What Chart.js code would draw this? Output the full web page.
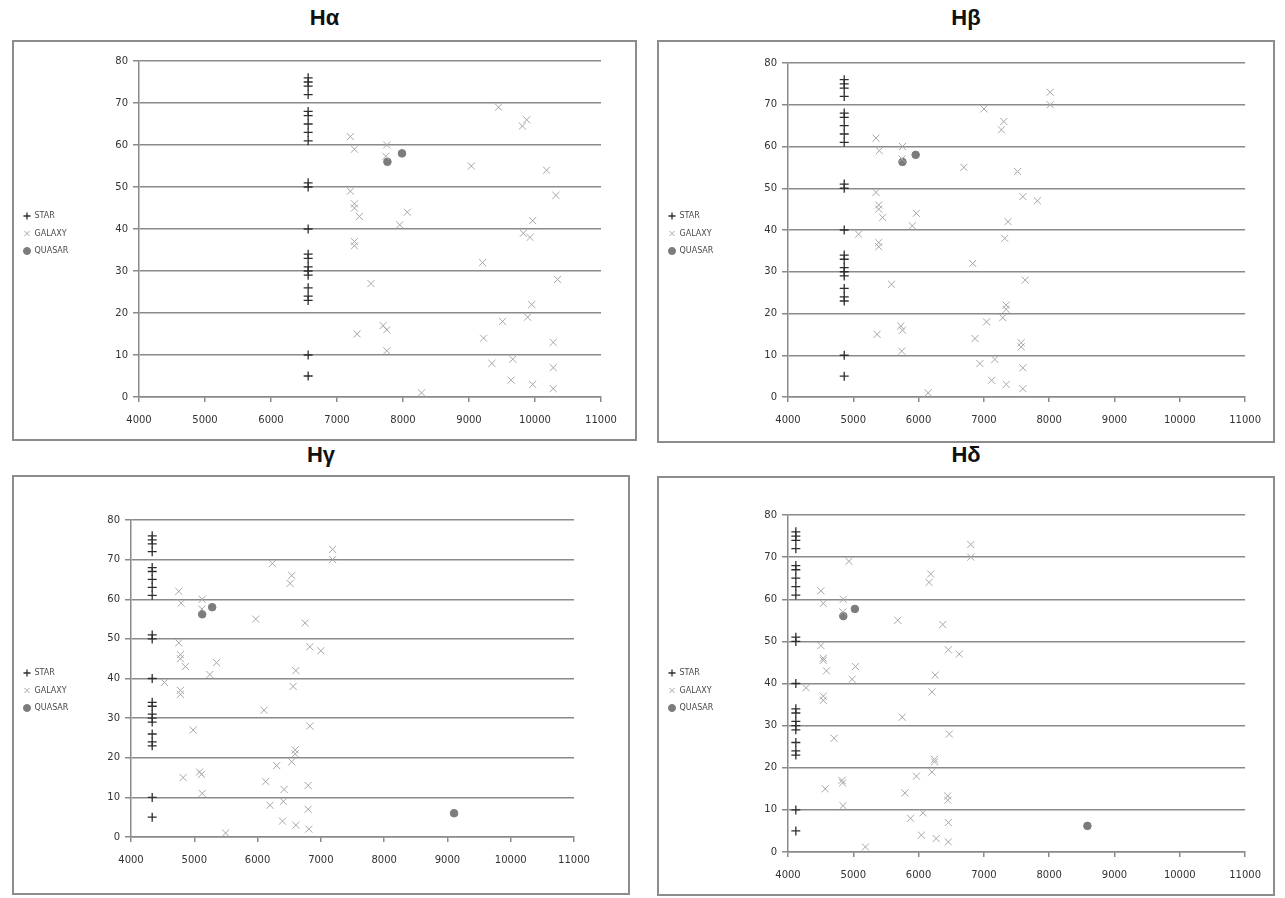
<!DOCTYPE html>
<html>
<head>
<meta charset="utf-8">
<script src="https://cdn.jsdelivr.net/npm/chart.js@4.4.1/dist/chart.umd.min.js"></script>
<style>
  body { margin: 0; background: #fff; width: 1285px; height: 898px; position: relative; overflow: hidden; }
  .title { position: absolute; font-family: "Liberation Sans", Arial, sans-serif; font-weight: bold; font-size: 22px; line-height: 26px; text-align: center; color: #111; }
  .box { position: absolute; border: 2px solid #8c8c8c; box-sizing: border-box; background: #fff; }
  .inner { position: relative; }
</style>
</head>
<body>
<script>
// 各パネルのタイトルと凡例
const titles = ['Hα', 'Hβ', 'Hγ', 'Hδ'];
const legendLabels = ['STAR', 'GALAXY', 'QUASAR'];

// 軸の目盛り
const xTicks = [4000, 5000, 6000, 7000, 8000, 9000, 10000, 11000];
const yTicks = [0, 10, 20, 30, 40, 50, 60, 70, 80];

// 恒星は全パネル同じ高さに並ぶ
const starY = [76, 75, 74, 72, 68, 67, 65, 63, 61, 51, 50, 40, 34, 33, 31, 30, 29, 26, 24, 23, 10, 5];
const haStarX = 6563;
const hbStarX = 4861;
const hgStarX = 4335;
const hdStarX = 4120;

// Hα
const haGalaxy = [[7203, 62], [7264, 59], [7754, 60], [7740, 57.3], [7203, 49], [7264, 46], [7264, 45], [7340, 43],
  [7264, 37], [7264, 36], [7515, 27], [7305, 15], [9447, 69], [9809, 64.5], [9874, 66], [9035, 55], [10176, 54],
  [10317, 48], [8065, 44], [7950, 41], [9965, 42], [9824, 39], [9925, 38], [9206, 32], [10342, 28], [9950, 22],
  [9889, 19], [9508, 18], [7698, 17], [7754, 16], [9221, 14], [10276, 13], [7754, 11], [9347, 8], [9663, 9],
  [10276, 7], [9638, 4], [9965, 3], [10276, 2], [8281, 1]];
const haQuasar = [[7764, 56], [7985, 58]];

// Hβ
const hbGalaxy = [[5348, 62], [5399, 59], [5753, 60], [5745, 57], [6692, 55], [7000, 69], [7268, 64], [7304, 66],
  [8015, 73], [8015, 70], [5348, 49], [5389, 46], [5389, 45], [5450, 43], [5965, 44], [5904, 41], [5081, 39],
  [5389, 37], [5389, 36], [6828, 32], [5586, 27], [5364, 15], [5727, 17], [5753, 16], [5742, 11], [6146, 1],
  [6864, 14], [7040, 18], [6939, 8], [7167, 9], [7118, 4], [7343, 3], [7516, 54], [7597, 48], [7819, 47],
  [7370, 42], [7319, 38], [7632, 28], [7340, 22], [7340, 21], [7289, 19], [7571, 13], [7571, 12], [7597, 7], [7597, 2]];
const hbQuasar = [[5753, 56.3], [5955, 58]];

// Hγ
const hgGalaxy = [[4755, 62], [4792, 59], [5125, 60], [5120, 57.5], [5970, 55], [6234, 69], [6514, 64], [6540, 66],
  [7185, 72.6], [7185, 70], [6752, 54], [6826, 48], [7000, 47], [6604, 42], [6562, 38], [4755, 49], [4781, 46],
  [4781, 45], [4860, 43], [5352, 44], [5246, 41], [4528, 39], [4781, 37], [4781, 36], [6102, 32], [4982, 27],
  [6826, 28], [6594, 22], [6594, 21], [6540, 19], [6302, 18], [4824, 15], [5083, 16.4], [5114, 15.8], [5125, 11],
  [6129, 14], [6419, 12], [6800, 13], [6197, 8], [6409, 9], [6800, 7], [6393, 4], [6604, 3], [6810, 2], [5495, 1]];
const hgQuasar = [[5125, 56.2], [5283, 58], [9105, 6]];

// Hδ
const hdGalaxy = [[4504, 62], [4540, 59], [4847, 60], [4840, 57], [4933, 69], [5681, 55], [6160, 64], [6185, 66],
  [6799, 73], [6799, 70], [6370, 54], [6456, 48], [6622, 47], [6254, 42], [6204, 38], [4504, 49], [4540, 46],
  [4540, 45.5], [4590, 43], [5034, 44], [4983, 41], [4277, 39], [4540, 37], [4540, 36], [5750, 32], [4706, 27],
  [6471, 28], [6244, 22], [6244, 21.4], [6204, 19], [5967, 18], [4570, 15], [4827, 17], [4837, 16.4], [4842, 11],
  [5790, 14], [6446, 13.3], [6446, 12.3], [5877, 8], [6068, 9.3], [6456, 7], [6043, 4], [6270, 3.2], [6456, 2.4], [5185, 1.2]];
const hdQuasar = [[4847, 56], [5024, 57.7], [8585, 6.2]];

// パネルの配置（ページ座標）。legendY は凡例の一行目の中心
const panels = [
  { title: titles[0], starX: haStarX, galaxy: haGalaxy, quasar: haQuasar, box: [12, 40, 625, 401], plot: [139, 61, 601, 397], titleTop: 5, legendY: 216 },
  { title: titles[1], starX: hbStarX, galaxy: hbGalaxy, quasar: hbQuasar, box: [657, 40, 618, 403], plot: [788, 63, 1253, 397], titleTop: 5, legendY: 216 },
  { title: titles[2], starX: hgStarX, galaxy: hgGalaxy, quasar: hgQuasar, box: [12, 475, 618, 420], plot: [131, 520, 574, 837], titleTop: 442, legendY: 673 },
  { title: titles[3], starX: hdStarX, galaxy: hdGalaxy, quasar: hdQuasar, box: [657, 476, 618, 420], plot: [788, 515, 1253, 852], titleTop: 442, legendY: 673 }
];

const toPoints = arr => arr.map(p => ({ x: p[0], y: p[1] }));
const tickFont = { family: 'DejaVu Sans', size: 10 };
const gridColor = '#8a8a8a';

function makePanel(p) {
  const [bx, by, bw, bh] = p.box;

  const t = document.createElement('div');
  t.className = 'title';
  t.style.left = bx + 'px';
  t.style.top = p.titleTop + 'px';
  t.style.width = bw + 'px';
  t.textContent = p.title;
  document.body.appendChild(t);

  const box = document.createElement('div');
  box.className = 'box';
  box.style.left = bx + 'px';
  box.style.top = by + 'px';
  box.style.width = bw + 'px';
  box.style.height = bh + 'px';
  const inner = document.createElement('div');
  inner.className = 'inner';
  inner.style.width = (bw - 4) + 'px';
  inner.style.height = (bh - 4) + 'px';
  const canvas = document.createElement('canvas');
  inner.appendChild(canvas);
  box.appendChild(inner);
  document.body.appendChild(box);

  // プロット領域の目標位置（キャンバス座標）
  const target = {
    left: p.plot[0] - bx - 2, top: p.plot[1] - by - 2,
    right: p.plot[2] - bx - 2, bottom: p.plot[3] - by - 2,
    legend: p.legendY - by - 2
  };
  const st = { yW: 45, xH: 30, padL: 0, padR: 20, padT: 15, legT: 100 };

  const chart = new Chart(canvas, {
    type: 'scatter',
    data: {
      datasets: [
        {
          label: legendLabels[0],
          data: starY.map(y => ({ x: p.starX, y: y })),
          pointStyle: 'cross', pointRadius: 4.5, borderWidth: 1.3,
          borderColor: '#2e2e2e', backgroundColor: '#2e2e2e'
        },
        {
          label: legendLabels[1],
          data: toPoints(p.galaxy),
          pointStyle: 'crossRot', pointRadius: 5, borderWidth: 1,
          borderColor: '#a6a6a6', backgroundColor: '#a6a6a6'
        },
        {
          label: legendLabels[2],
          data: toPoints(p.quasar),
          pointStyle: 'circle', pointRadius: 3.8, borderWidth: 1,
          borderColor: '#7c7c7c', backgroundColor: '#7c7c7c'
        }
      ]
    },
    options: {
      animation: false,
      responsive: true,
      maintainAspectRatio: false,
      layout: { padding: { left: st.padL, right: st.padR, top: st.padT, bottom: 0 } },
      plugins: {
        legend: {
          position: 'left',
          align: 'start',
          // 空のタイトルで凡例の縦位置をずらす
          title: { display: true, text: '', font: { size: 1 }, padding: { top: st.legT, bottom: 0 } },
          labels: {
            usePointStyle: true, boxWidth: 7, boxHeight: 5, padding: 9.5,
            color: '#4a4a4a', font: { family: 'DejaVu Sans', size: 8 }
          }
        },
        tooltip: { enabled: false }
      },
      scales: {
        x: {
          type: 'linear', min: xTicks[0], max: xTicks[xTicks.length - 1],
          afterBuildTicks: s => { s.ticks = xTicks.map(v => ({ value: v })); },
          afterFit: s => { s.height = st.xH; },
          ticks: { callback: v => String(v), color: '#333', font: tickFont, padding: 12, maxRotation: 0, autoSkip: false },
          grid: { drawOnChartArea: false, color: gridColor, lineWidth: 1.5, tickLength: 5 },
          border: { color: gridColor, width: 1.5 }
        },
        y: {
          type: 'linear', min: yTicks[0], max: yTicks[yTicks.length - 1],
          afterBuildTicks: s => { s.ticks = yTicks.map(v => ({ value: v })); },
          afterFit: s => { s.width = st.yW; },
          ticks: { color: '#333', font: tickFont, padding: 5, autoSkip: false },
          grid: { color: gridColor, lineWidth: 1.5, tickLength: 6 },
          border: { color: gridColor, width: 1.5 }
        }
      }
    }
  });

  // プロット領域と凡例を元の図の位置に合わせる
  for (let k = 0; k < 4; k++) {
    const ca = chart.chartArea;
    st.yW += target.left - ca.left;
    st.padR += ca.right - target.right;
    st.padT += target.top - ca.top;
    st.xH += ca.bottom - target.bottom;
    const hb = chart.legend.legendHitBoxes[0];
    if (hb) st.legT = Math.max(0, st.legT + target.legend - (hb.top + hb.height / 2));
    chart.options.layout.padding = { left: st.padL, right: st.padR, top: st.padT, bottom: 0 };
    chart.options.plugins.legend.title.padding = { top: st.legT, bottom: 0 };
    chart.update('none');
  }
  return chart;
}

panels.forEach(makePanel);
</script>
</body>
</html>
